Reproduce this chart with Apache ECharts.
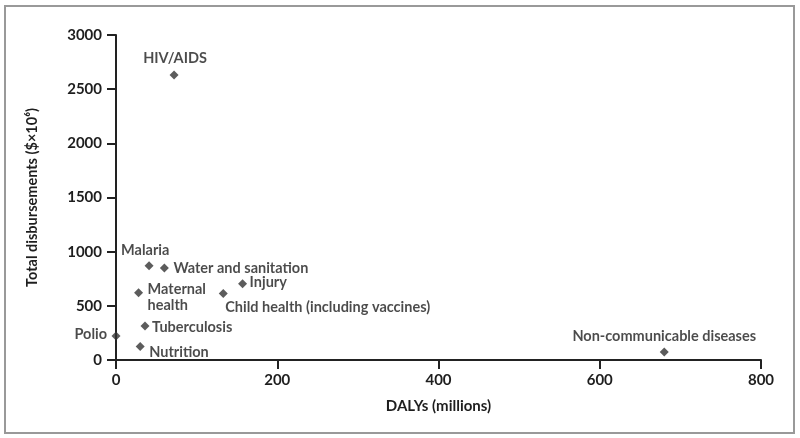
<!DOCTYPE html>
<html>
<head>
<meta charset="utf-8">
<script src="https://cdn.jsdelivr.net/npm/echarts@6/dist/echarts.min.js"></script>
<style>
html,body{margin:0;padding:0;background:#fff;}
#c{width:800px;height:438px;}
</style>
</head>
<body>
<div id="c"></div>
<script>
// Data
const categories = ["HIV/AIDS","Malaria","Water and sanitation","Injury","Maternal\nhealth","Child health (including vaccines)","Tuberculosis","Polio","Nutrition","Non-communicable diseases"];
const dalys = [72, 41, 60, 157, 28, 133, 36, 0, 30, 680];
const disbursements = [2630, 870, 850, 705, 620, 615, 315, 222, 125, 75];
const xTicks = [0, 200, 400, 600, 800];
const yTicks = [0, 500, 1000, 1500, 2000, 2500, 3000];

// label placement (style only)
const labelPlace = {
  "HIV/AIDS": {align:"center", offset:[1,-17]},
  "Malaria": {align:"left", offset:[-28,-15]},
  "Water and sanitation": {align:"left", offset:[9,0]},
  "Injury": {align:"left", offset:[7,-1]},
  "Maternal\nhealth": {align:"left", offset:[9,4]},
  "Child health (including vaccines)": {align:"left", offset:[2,14]},
  "Tuberculosis": {align:"left", offset:[7,1]},
  "Polio": {align:"right", offset:[-9,-2]},
  "Nutrition": {align:"left", offset:[9,6]},
  "Non-communicable diseases": {align:"center", offset:[0,-16]}
};

const FONT = "Lato";
const TXT = "#1e1e1e";

const seriesData = categories.map((n, i) => {
  const p = labelPlace[n];
  return {
    name: n,
    value: [dalys[i], disbursements[i]],
    label: {
      show: true,
      position: "inside",
      align: p.align,
      verticalAlign: "middle",
      offset: p.offset,
      formatter: n,
      color: TXT,
      fontFamily: FONT,
      fontWeight: "bold",
      fontSize: 14.5,
      lineHeight: 16
    }
  };
});

const chart = echarts.init(document.getElementById("c"), null, {renderer: "canvas"});
chart.setOption({
  animation: false,
  backgroundColor: "#fff",
  graphic: [{
    type: "rect",
    shape: {x: 5, y: 6, width: 789, height: 427},
    style: {fill: "none", stroke: "#999", lineWidth: 2},
    silent: true
  }],
  grid: {left: 116, right: 39, top: 35, bottom: 78},
  xAxis: {
    type: "value",
    min: xTicks[0], max: xTicks[xTicks.length-1], interval: 200,
    name: "DALYs (millions)",
    nameLocation: "middle",
    nameGap: 39,
    nameTextStyle: {color: TXT, fontFamily: FONT, fontWeight: "bold", fontSize: 15},
    axisLine: {show: true, onZero: false, lineStyle: {color: "#222", width: 2}},
    axisTick: {show: true, inside: false, length: 9, lineStyle: {color: "#222", width: 2}},
    axisLabel: {color: TXT, fontFamily: FONT, fontWeight: "bold", fontSize: 15, margin: 13, formatter: v => String(v)},
    splitLine: {show: false}
  },
  yAxis: {
    type: "value",
    min: yTicks[0], max: yTicks[yTicks.length-1], interval: 500,
    name: "Total disbursements ($×10⁶)",
    nameLocation: "middle",
    nameGap: 76,
    nameTextStyle: {color: TXT, fontFamily: FONT, fontWeight: "bold", fontSize: 14.5},
    axisLine: {show: true, onZero: false, lineStyle: {color: "#222", width: 2}},
    axisTick: {show: true, inside: false, length: 9, lineStyle: {color: "#222", width: 2}},
    axisLabel: {color: TXT, fontFamily: FONT, fontWeight: "bold", fontSize: 15, margin: 14, formatter: v => String(v)},
    splitLine: {show: false}
  },
  series: [{
    type: "scatter",
    symbol: "diamond",
    symbolSize: 9,
    itemStyle: {color: "#333"},
    data: seriesData
  }]
});
</script>
</body>
</html>
